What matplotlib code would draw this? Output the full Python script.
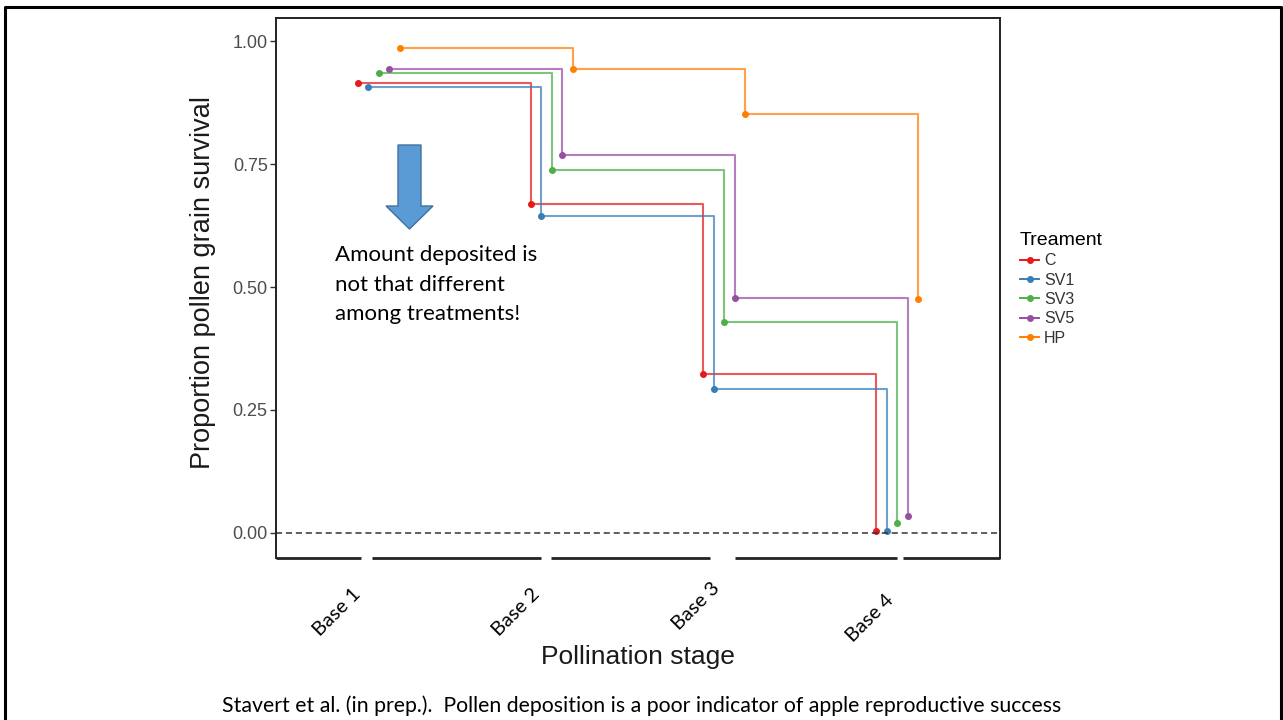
#!/usr/bin/env python3
"""Pollen grain survival across pollination stages, one step line per treatment."""

import matplotlib

matplotlib.use("Agg")
import matplotlib.pyplot as plt  # type: ignore
from matplotlib.patches import Polygon  # type: ignore
from matplotlib.lines import Line2D  # type: ignore
import numpy as np  # type: ignore

W, H = 1283, 720

stages = ["Base 1", "Base 2", "Base 3", "Base 4"]
treatments = ["C", "SV1", "SV3", "SV5", "HP"]
colours = ["#E41A1C", "#377EB8", "#4DAF4A", "#984EA3", "#FF7F00"]
survival_c = [0.915, 0.669, 0.323, 0.003]
survival_sv1 = [0.907, 0.644, 0.293, 0.003]
survival_sv3 = [0.935, 0.738, 0.429, 0.021]
survival_sv5 = [0.943, 0.768, 0.478, 0.034]
survival_hp = [0.986, 0.943, 0.851, 0.476]
survival = [survival_c, survival_sv1, survival_sv3, survival_sv5, survival_hp]

note = "Amount deposited is\nnot that different\namong treatments!"
caption = ("Stavert et al. (in prep.).  Pollen deposition is a poor "
           "indicator of apple reproductive success")


def fx(px):
    return px / W


def fy(py):
    return 1 - py / H


def main():
    plt.rcParams["font.family"] = ["Liberation Sans", "DejaVu Sans"]
    fig = plt.figure(figsize=(W / 100, H / 100), dpi=100)
    fig.patch.set_facecolor("white")

    # slide frame (top, left, right)
    fig.add_artist(Line2D([fx(5), fx(5), fx(1281), fx(1281)],
                          [0, fy(7), fy(7), 0], color="black", lw=2.2))

    ax = fig.add_axes([fx(276), fy(558), fx(1000) - fx(276), fy(18) - fy(558)])
    ax.set_xlim(0.405, 4.595)
    ax.set_ylim(-0.051, 1.047)

    xs = np.arange(1, len(stages) + 1)
    dodge = np.linspace(-0.122, 0.122, len(treatments))
    for name, col, vals, d in zip(treatments, colours, survival, dodge):
        ax.step(xs + d, vals, where="post", color=col, lw=1.5, alpha=0.72)
        ax.plot(xs + d, vals, ls="none", marker="o", ms=4, color=col,
                label=name)

    ax.axhline(0, color="#333333", lw=1.1, ls=(0, (4, 2.5)))

    for side in ("top", "left", "right"):
        ax.spines[side].set_linewidth(1.4)
        ax.spines[side].set_color("#222222")
    ax.spines["bottom"].set_visible(False)
    # bottom axis line, broken where the slide covered the ticks
    gaps = [0.405, 0.899, 0.96, 1.939, 1.994, 2.919, 3.064, 4.0, 4.035, 4.595]
    for a, b in zip(gaps[0::2], gaps[1::2]):
        ax.plot([a, b], [0, 0], transform=ax.get_xaxis_transform(),
                color="#222222", lw=2.0, clip_on=False,
                solid_capstyle="butt")

    ax.set_yticks([0, 0.25, 0.5, 0.75, 1.0])
    ax.set_yticklabels(["0.00", "0.25", "0.50", "0.75", "1.00"])
    ax.tick_params(axis="y", length=4, width=1, color="#333333",
                   labelsize=13, labelcolor="#4D4D4D", pad=2)
    ax.set_xticks([])

    fig.text(fx(203), fy(283), "Proportion pollen grain survival",
             rotation=90, ha="center", va="center", fontsize=19.5,
             color="#1a1a1a")
    fig.text(fx(638), fy(657), "Pollination stage", ha="center",
             va="center", fontsize=19, color="#1a1a1a")

    # rotated stage labels placed on the slide
    label_cx = [337, 516, 696, 870]
    label_cy = [612, 612, 606, 618]
    for lab, cx, cy in zip(stages, label_cx, label_cy):
        fig.text(fx(cx), fy(cy), lab, rotation=45, ha="center",
                 va="center", fontsize=14.5, family=["Lato", "DejaVu Sans"])

    leg = ax.legend(title="Treament", loc="upper left",
                    bbox_to_anchor=(fx(1012), fy(224)),
                    bbox_transform=fig.transFigure, frameon=False,
                    fontsize=11.5, title_fontsize=14, handlelength=1.2,
                    handletextpad=0.3, labelspacing=0.27, borderpad=0)
    leg._legend_box.align = "left"
    for h, col in zip(leg.legend_handles, colours):
        h.set_linestyle("-")
        h.set_color(col)
        h.set_linewidth(1.4)
    for t in leg.get_texts():
        t.set_color("#333333")

    # block arrow
    arrow = Polygon([(fx(398), fy(145)), (fx(421), fy(145)),
                     (fx(421), fy(206)), (fx(433), fy(206)),
                     (fx(409.5), fy(229)), (fx(386), fy(206)),
                     (fx(398), fy(206))], closed=True,
                    transform=fig.transFigure, facecolor="#5B9BD5",
                    edgecolor="#41719C", lw=1)
    fig.add_artist(arrow)

    fig.text(fx(335), fy(245), note, ha="left", va="top", fontsize=16,
             linespacing=1.6, family=["Lato", "DejaVu Sans"])
    fig.text(fx(642), fy(706), caption, ha="center", va="center",
             fontsize=15.3, family=["Lato", "DejaVu Sans"])

    fig.savefig("out.png", dpi=100)


if __name__ == "__main__":
    main()
